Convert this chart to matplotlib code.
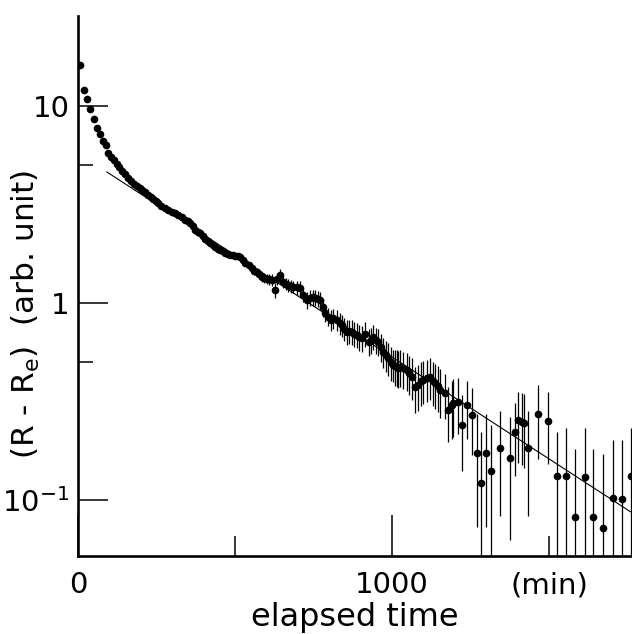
import numpy as np
import matplotlib
matplotlib.use("Agg")
import matplotlib.pyplot as plt
from matplotlib.ticker import FixedLocator, FixedFormatter, NullFormatter

plt.rcParams['font.family'] = ['DejaVu Sans']
plt.rcParams['mathtext.default'] = 'regular'

# early measurements, no error bars visible (min, arb. unit)
t_early = [6, 20, 29, 38, 50, 61, 69, 81, 88, 97,
           105, 116, 123, 131, 139, 150, 160, 170, 178, 187,
           196, 205, 213, 222, 231, 240, 248, 256, 265, 277,
           287, 298, 309, 320, 330, 341, 349, 357, 365, 373,
           381, 389, 397, 405, 413, 421, 429, 437, 445, 453,
           461, 469, 477, 485, 493, 501, 509, 517, 525, 533]
v_early = [16.1, 12.1, 10.8, 9.6, 8.6, 7.7, 7.2, 6.6, 6.3, 5.75,
           5.5, 5.3, 5.08, 4.9, 4.7, 4.52, 4.3, 4.15, 4.03, 3.93,
           3.82, 3.73, 3.67, 3.55, 3.45, 3.37, 3.28, 3.2, 3.12, 3.03,
           2.97, 2.91, 2.86, 2.80, 2.72, 2.64, 2.60, 2.56, 2.45, 2.35,
           2.30, 2.26, 2.20, 2.12, 2.07, 2.02, 1.97, 1.93, 1.89, 1.86,
           1.83, 1.80, 1.78, 1.76, 1.75, 1.74, 1.73, 1.72, 1.66, 1.59]

# later measurements with error bars
t_late = [545, 553, 561, 569, 577, 585, 593, 601, 609, 617,
          627, 633, 643, 654, 662, 670, 678, 686, 696, 707,
          718, 728, 739, 747, 755, 763, 771, 779, 787, 797,
          805, 813, 824, 834, 840, 848, 856, 864, 872, 880,
          888, 895, 903, 914, 925, 932, 940, 948, 956, 964,
          972, 980, 988, 996, 1004, 1009, 1015, 1020, 1025, 1036,
          1047, 1055, 1063, 1073, 1084, 1092, 1100, 1110, 1121, 1129,
          1137, 1145, 1153, 1169, 1179, 1190, 1195, 1211, 1222, 1238,
          1254, 1270, 1282, 1299, 1314, 1344, 1376, 1392, 1402, 1413,
          1420, 1434, 1464, 1495, 1524, 1553, 1583, 1615, 1641, 1673,
          1702, 1733, 1760]
v_late = [1.55, 1.50, 1.46, 1.44, 1.40, 1.36, 1.34, 1.33, 1.32, 1.31,
          1.16, 1.33, 1.39, 1.28, 1.25, 1.23, 1.22, 1.21, 1.20, 1.19,
          1.10, 1.035, 1.06, 1.07, 1.06, 1.05, 1.035, 0.95, 0.887, 0.85,
          0.82, 0.836, 0.82, 0.789, 0.773, 0.74, 0.715, 0.72, 0.715, 0.70,
          0.688, 0.67, 0.662, 0.70, 0.636, 0.65, 0.675, 0.65, 0.636, 0.60,
          0.566, 0.545, 0.524, 0.50, 0.485, 0.48, 0.475, 0.47, 0.475, 0.466,
          0.457, 0.44, 0.423, 0.376, 0.384, 0.40, 0.407, 0.415, 0.423, 0.40,
          0.391, 0.38, 0.36, 0.348, 0.286, 0.303, 0.31, 0.316, 0.240, 0.303,
          0.27, 0.173, 0.122, 0.173, 0.141, 0.183, 0.163, 0.222, 0.255, 0.25,
          0.245, 0.183, 0.272, 0.253, 0.132, 0.132, 0.082, 0.131, 0.082, 0.072,
          0.102, 0.101, 0.132]
e_late = [0.06, 0.06, 0.07, 0.07, 0.07, 0.08, 0.08, 0.08, 0.09, 0.09,
          0.10, 0.09, 0.09, 0.09, 0.09, 0.09, 0.09, 0.09, 0.10, 0.10,
          0.09, 0.10, 0.10, 0.10, 0.10, 0.10, 0.10, 0.10, 0.09, 0.09,
          0.10, 0.10, 0.10, 0.10, 0.10, 0.10, 0.10, 0.10, 0.10, 0.10,
          0.10, 0.10, 0.10, 0.10, 0.10, 0.10, 0.10, 0.10, 0.10, 0.10,
          0.10, 0.10, 0.10, 0.10, 0.09, 0.10, 0.10, 0.10, 0.10, 0.10,
          0.10, 0.10, 0.10, 0.10, 0.10, 0.10, 0.10, 0.10, 0.10, 0.10,
          0.10, 0.10, 0.10, 0.09, 0.09, 0.10, 0.10, 0.10, 0.10, 0.10,
          0.10, 0.10, 0.10, 0.10, 0.10, 0.10, 0.10, 0.09, 0.10, 0.10,
          0.10, 0.10, 0.11, 0.10, 0.09, 0.10, 0.10, 0.10, 0.10, 0.10,
          0.10, 0.10, 0.10]

# fitted exponential decay (straight line on log axis)
fit_t = [92, 1765]
fit_v = [4.62, 0.086]

fig = plt.figure(figsize=(6.32, 6.34), dpi=100)
ax = fig.add_axes([78/632, 1 - 556/634, 554/632, 540/634])
ax.set_yscale('log')

t_late = np.array(t_late)
v_late = np.array(v_late)
e_late = np.array(e_late)
lower = np.minimum(e_late, v_late - 1e-3)

ax.errorbar(t_late, v_late, yerr=[lower, e_late], fmt='o', color='black',
            ms=4.5, elinewidth=0.9, capsize=0)
ax.plot(t_early, v_early, 'o', color='black', ms=4.5)
ax.plot(fit_t, fit_v, '-', color='black', lw=0.8)

ax.set_xlim(0, 1764)
ax.set_ylim(0.052, 28.6)

for s in ['top', 'right']:
    ax.spines[s].set_visible(False)
for s in ['left', 'bottom']:
    ax.spines[s].set_linewidth(1.9)

ax.xaxis.set_major_locator(FixedLocator([0, 1000]))
ax.xaxis.set_major_formatter(FixedFormatter(['0', '1000']))
ax.xaxis.set_minor_locator(FixedLocator([500, 1500]))
ax.xaxis.set_minor_formatter(FixedFormatter(['', '(min)']))

ax.yaxis.set_major_locator(FixedLocator([0.1, 1, 10]))
ax.yaxis.set_major_formatter(FixedFormatter(['10$^{-1}$', '1', '10']))
ax.yaxis.set_minor_locator(FixedLocator([0.5, 5]))
ax.yaxis.set_minor_formatter(NullFormatter())

ax.tick_params(axis='x', which='major', direction='in', length=29.5, width=1.1,
               pad=11, labelsize=21)
ax.tick_params(axis='x', which='minor', direction='in', length=14.4, width=1.1,
               pad=11, labelsize=21)
ax.tick_params(axis='y', which='major', direction='in', length=21.6, width=1.1,
               pad=6, labelsize=21)
ax.tick_params(axis='y', which='minor', direction='in', length=10.8, width=1.1)

ax.set_xlabel('elapsed time', fontsize=23, labelpad=2)
ax.set_ylabel('(R - R$_{e}$)  (arb. unit)', fontsize=22.5)
ax.yaxis.set_label_coords(-0.065, 0.448)

fig.savefig('out.png', dpi=100)
